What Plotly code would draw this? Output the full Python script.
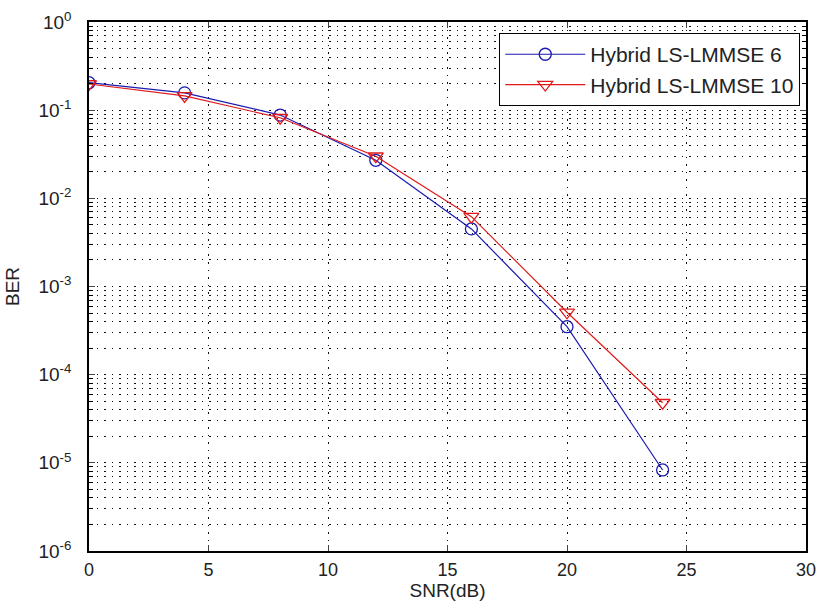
import plotly.graph_objects as go

snr = [0, 4, 8, 12, 16, 20, 24]
ber_6 = [0.205, 0.157, 0.088, 0.027, 0.0045, 0.00035, 8.3e-6]
ber_10 = [0.198, 0.145, 0.082, 0.030, 0.0062, 0.00051, 4.8e-5]
names = ["Hybrid LS-LMMSE 6", "Hybrid LS-LMMSE 10"]
xticks = [0, 5, 10, 15, 20, 25, 30]
yticks = [1e0, 1e-1, 1e-2, 1e-3, 1e-4, 1e-5, 1e-6]
ytext = ["10<sup>0</sup>", "10<sup>-1</sup>", "10<sup>-2</sup>", "10<sup>-3</sup>",
         "10<sup>-4</sup>", "10<sup>-5</sup>", "10<sup>-6</sup>"]

fig = go.Figure()
fig.add_trace(go.Scatter(x=snr, y=ber_6, mode="lines+markers", name=names[0],
                         line=dict(color="#1a1ab0", width=1.2),
                         marker=dict(symbol="circle-open", size=12, color="#1a1ab0", line=dict(width=1.3))))
fig.add_trace(go.Scatter(x=snr, y=ber_10, mode="lines+markers", name=names[1],
                         line=dict(color="#e01a1a", width=1.2),
                         marker=dict(symbol="triangle-down-open", size=13, color="#e01a1a", line=dict(width=1.3))))

fam = "Liberation Sans, Arial, sans-serif"
dash = "1.5px,6px"
fig.update_layout(
    width=818, height=610,
    margin=dict(l=89, r=12, t=22, b=59),
    paper_bgcolor="white", plot_bgcolor="white",
    font=dict(family=fam, size=18, color="#222"),
    showlegend=True,
    legend=dict(x=0.992, y=0.979, xanchor="right", yanchor="top",
                bgcolor="white", bordercolor="black", borderwidth=1,
                font=dict(family=fam, size=21, color="#222"),
                itemwidth=80, tracegroupgap=0),
    xaxis=dict(range=[0, 30], tickvals=xticks, ticks="inside", ticklen=6,
               showline=True, linecolor="black", linewidth=1.5, mirror="ticks",
               showgrid=True, gridcolor="#111", griddash=dash, gridwidth=1.3,
               zeroline=False, automargin=False, ticklabeloverflow="allow",
               title=dict(text="SNR(dB)", standoff=4, font=dict(size=19)),
               ticklabelstandoff=2,
               tickfont=dict(size=18, color="#222")),
    yaxis=dict(type="log", range=[-6, 0], tickvals=yticks, ticktext=ytext,
               ticks="inside", ticklen=6,
               showline=True, linecolor="black", linewidth=1.5, mirror="ticks",
               showgrid=True, gridcolor="#111", griddash=dash, gridwidth=1.3,
               zeroline=False, automargin=False, ticklabeloverflow="allow",
               title=dict(text="BER", standoff=14, font=dict(size=19)),
               ticklabelstandoff=12,
               tickfont=dict(size=19, color="#222"),
               minor=dict(ticks="inside", ticklen=4, tickcolor="black", showgrid=True,
                          gridcolor="#111", griddash=dash, gridwidth=1.3, dtick="D1")),
)
# remove the default 8px page margin so the figure fills the window exactly
fig.write_html("out.html", config={"displayModeBar": False},
               post_script="document.body.style.margin='0';document.body.style.overflow='hidden';")
